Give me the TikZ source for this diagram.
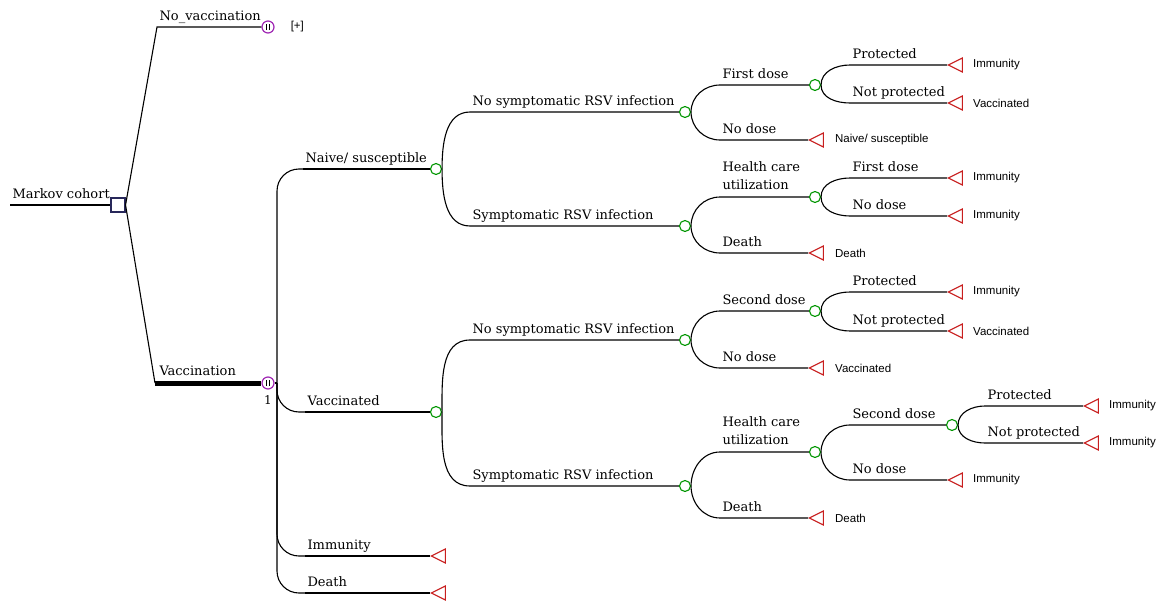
\documentclass[tikz,border=0pt]{standalone}
\usepackage{fontspec}
\usetikzlibrary{positioning, shapes.geometric}
\newfontfamily\brfont{DejaVu Serif}
\newfontfamily\tmfont{Liberation Sans}
\definecolor{chgreen}{RGB}{0,150,0}
\definecolor{tmred}{RGB}{200,30,30}
\definecolor{mkpurple}{RGB}{160,40,180}
\definecolor{decblue}{RGB}{40,40,90}
\tikzset{
  br/.style={line width=1.1pt},
  stateline/.style={line width=1.1pt, rounded corners=22pt},
  chance/.style={circle, draw=chgreen, line width=1.1pt, fill=white, minimum size=11pt, inner sep=0pt},
  terminal/.style={isosceles triangle, isosceles triangle stretches, shape border rotate=180,
    draw=tmred, line width=1.1pt, minimum width=14pt, minimum height=14pt, inner sep=0pt, anchor=apex},
  markov/.style={circle, draw=mkpurple, line width=1.2pt, fill=white, minimum size=12pt, inner sep=0pt,
    path picture={\draw[black, line width=0.9pt] (path picture bounding box.center) ++(-2pt,-3pt) -- ++(0,6pt)
      (path picture bounding box.center) ++(1.5pt,-3pt) -- ++(0,6pt);}},
  decision/.style={rectangle, draw=decblue, line width=1.1pt, fill=white, minimum size=14pt, inner sep=0pt},
  blab/.style={pos=0, anchor=base west, xshift=2pt, yshift=7pt, inner sep=0pt, font=\brfont\fontsize{13}{18}\selectfont},
  hlab/.style={blab, anchor=south west, align=left},
  tlab/.style={inner sep=0pt, font=\tmfont\fontsize{11.5}{13}\selectfont},
}
\begin{document}
\begin{tikzpicture}[x=1pt, y=-1pt]
    \useasboundingbox (0,0) rectangle (1163,605);

    % Root and strategies
    \coordinate (coh) at (10,205);
    \node[decision] (dec) at (118,205) {};
    \draw[br] (coh) -- node[blab] (lcoh) {Markov cohort} (dec);

    \coordinate (novs) at (157,27);
    \coordinate (vacs) at (155,383);
    \node[markov] (mk1) at (268,27) {};
    \node[markov] (mk2) at (268,383) {};
    \node[tlab, right=16pt of mk1] (plus) {[+]};
    \node[inner sep=0pt, font=\brfont\fontsize{12}{14}\selectfont, below=6pt of mk2] (one) {1};

    \draw[br] (dec.east) -- (novs) -- node[blab] (lnov) {No\_vaccination} (mk1);
    \draw[br] (dec.east) -- (vacs);
    \draw[line width=5pt] (vacs) -- node[blab, yshift=1pt] (lvac) {Vaccination} (mk2);

    % Markov states
    \coordinate (mkout) at (277,383);
    \coordinate (nvs) at (303,169);
    \coordinate (vcs) at (305,412);
    \coordinate (ims) at (305,556);
    \coordinate (dts) at (305,593);
    \node[chance] (cA) at (436,169) {};
    \node[chance] (cB) at (436,412) {};
    \node[terminal] (tIm) at (430,556) {};
    \node[terminal] (tDt) at (430,593) {};

    \draw[br] (mk2.east) -- (mkout);
    \draw[stateline] (mkout) |- (nvs);
    \draw[stateline] (mkout) |- (vcs);
    \draw[stateline] (mkout) |- (ims);
    \draw[stateline] (mkout) |- (dts);
    \draw[br] (nvs) -- node[blab] (lnv) {Naive/ susceptible} (cA);
    \draw[br] (vcs) -- node[blab] (lvc) {Vaccinated} (cB);
    \draw[br] (ims) -- node[blab] (lim) {Immunity} (tIm);
    \draw[br] (dts) -- node[blab] (ldt) {Death} (tDt);

    % Naive/ susceptible
    \coordinate (a1s) at (470,112);
    \coordinate (a2s) at (470,226);
    \node[chance] (cA1) at (685,112) {};
    \node[chance] (cA2) at (685,226) {};
    \draw[br] (cA.east) to[out=90, in=180] (a1s) -- node[blab] (la1) {No symptomatic RSV infection} (cA1);
    \draw[br] (cA.east) to[out=-90, in=180] (a2s) -- node[blab] (la2) {Symptomatic RSV infection} (cA2);

    \coordinate (a11s) at (720,85);
    \coordinate (a12s) at (720,140);
    \node[chance] (cA11) at (815,85) {};
    \node[terminal] (tA12) at (808,140) {};
    \node[tlab, right=11pt of tA12] {Naive/ susceptible};
    \draw[br] (cA1.east) to[out=90, in=180] (a11s) -- node[blab] (la11) {First dose} (cA11);
    \draw[br] (cA1.east) to[out=-90, in=180] (a12s) -- node[blab] (la12) {No dose} (tA12);

    \coordinate (a111s) at (850,65);
    \coordinate (a112s) at (850,103);
    \node[terminal] (tA111) at (947,65) {};
    \node[terminal] (tA112) at (947,103) {};
    \node[tlab, right=10pt of tA111] {Immunity};
    \node[tlab, right=10pt of tA112] {Vaccinated};
    \draw[br] (cA11.east) to[out=90, in=180] (a111s) -- node[blab] (la111) {Protected} (tA111);
    \draw[br] (cA11.east) to[out=-90, in=180] (a112s) -- node[blab] (la112) {Not protected} (tA112);

    \coordinate (a21s) at (720,197);
    \coordinate (a22s) at (720,253);
    \node[chance] (cA21) at (815,197) {};
    \node[terminal] (tA22) at (808,253) {};
    \node[tlab, right=11pt of tA22] {Death};
    \draw[br] (cA2.east) to[out=90, in=180] (a21s) -- node[hlab] (la21) {Health care\\utilization} (cA21);
    \draw[br] (cA2.east) to[out=-90, in=180] (a22s) -- node[blab] (la22) {Death} (tA22);

    \coordinate (a211s) at (850,178);
    \coordinate (a212s) at (850,216);
    \node[terminal] (tA211) at (947,178) {};
    \node[terminal] (tA212) at (947,216) {};
    \node[tlab, right=10pt of tA211] {Immunity};
    \node[tlab, right=10pt of tA212] {Immunity};
    \draw[br] (cA21.east) to[out=90, in=180] (a211s) -- node[blab] (la211) {First dose} (tA211);
    \draw[br] (cA21.east) to[out=-90, in=180] (a212s) -- node[blab] (la212) {No dose} (tA212);

    % Vaccinated
    \coordinate (b1s) at (470,340);
    \coordinate (b2s) at (470,486);
    \node[chance] (cB1) at (685,340) {};
    \node[chance] (cB2) at (685,486) {};
    \draw[br] (cB.east) to[out=90, in=180] (b1s) -- node[blab] (lb1) {No symptomatic RSV infection} (cB1);
    \draw[br] (cB.east) to[out=-90, in=180] (b2s) -- node[blab] (lb2) {Symptomatic RSV infection} (cB2);

    \coordinate (b11s) at (720,311);
    \coordinate (b12s) at (720,368);
    \node[chance] (cB11) at (815,311) {};
    \node[terminal] (tB12) at (808,368) {};
    \node[tlab, right=11pt of tB12] {Vaccinated};
    \draw[br] (cB1.east) to[out=90, in=180] (b11s) -- node[blab] (lb11) {Second dose} (cB11);
    \draw[br] (cB1.east) to[out=-90, in=180] (b12s) -- node[blab] (lb12) {No dose} (tB12);

    \coordinate (b111s) at (850,292);
    \coordinate (b112s) at (850,331);
    \node[terminal] (tB111) at (947,292) {};
    \node[terminal] (tB112) at (947,331) {};
    \node[tlab, right=10pt of tB111] {Immunity};
    \node[tlab, right=10pt of tB112] {Vaccinated};
    \draw[br] (cB11.east) to[out=90, in=180] (b111s) -- node[blab] (lb111) {Protected} (tB111);
    \draw[br] (cB11.east) to[out=-90, in=180] (b112s) -- node[blab] (lb112) {Not protected} (tB112);

    \coordinate (b21s) at (720,452);
    \coordinate (b22s) at (720,518);
    \node[chance] (cB21) at (815,452) {};
    \node[terminal] (tB22) at (808,518) {};
    \node[tlab, right=11pt of tB22] {Death};
    \draw[br] (cB2.east) to[out=90, in=180] (b21s) -- node[hlab] (lb21) {Health care\\utilization} (cB21);
    \draw[br] (cB2.east) to[out=-90, in=180] (b22s) -- node[blab] (lb22) {Death} (tB22);

    \coordinate (b211s) at (850,425);
    \coordinate (b212s) at (850,480);
    \node[chance] (cB211) at (952,425) {};
    \node[terminal] (tB212) at (947,480) {};
    \node[tlab, right=10pt of tB212] {Immunity};
    \draw[br] (cB21.east) to[out=90, in=180] (b211s) -- node[blab] (lb211) {Second dose} (cB211);
    \draw[br] (cB21.east) to[out=-90, in=180] (b212s) -- node[blab] (lb212) {No dose} (tB212);

    \coordinate (b2111s) at (985,406);
    \coordinate (b2112s) at (985,443);
    \node[terminal] (tB2111) at (1083,406) {};
    \node[terminal] (tB2112) at (1083,443) {};
    \node[tlab, right=10pt of tB2111] {Immunity};
    \node[tlab, right=10pt of tB2112] {Immunity};
    \draw[br] (cB211.east) to[out=90, in=180] (b2111s) -- node[blab] (lb2111) {Protected} (tB2111);
    \draw[br] (cB211.east) to[out=-90, in=180] (b2112s) -- node[blab] (lb2112) {Not protected} (tB2112);

    \end{tikzpicture}
\end{document}
